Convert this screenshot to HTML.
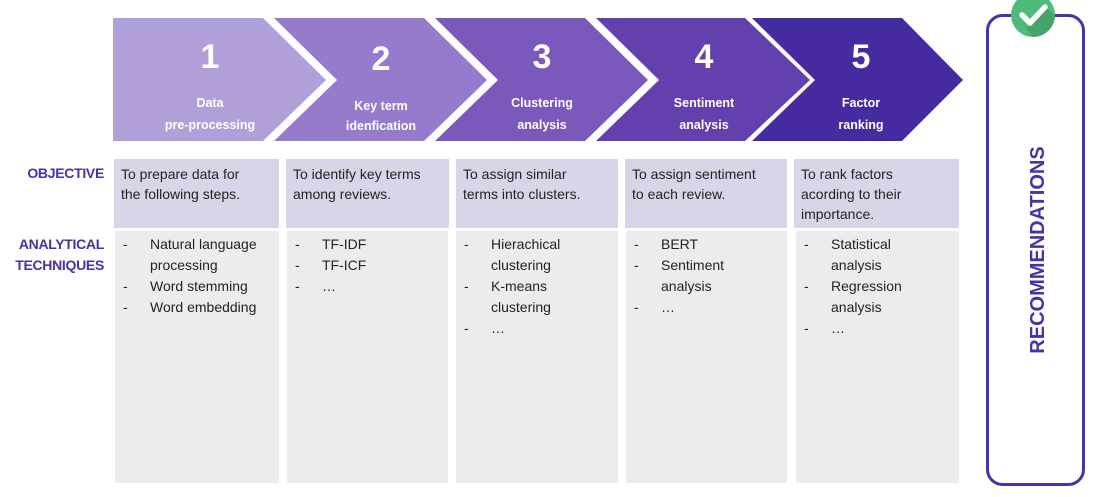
<!DOCTYPE html>
<html><head><style>
body{margin:0;width:1102px;height:497px;background:#fff;position:relative;overflow:hidden;font-family:"Liberation Sans",sans-serif;}
.a{position:absolute;}
.lbl{position:absolute;color:#4a2fa6;font-weight:bold;font-size:14px;text-align:right;width:100px;left:4px;line-height:21px;letter-spacing:-0.3px;}
.obj{position:absolute;top:159px;height:69px;background:#d9d5e9;font-size:14px;color:#222;line-height:20px;padding:5px 7px;box-sizing:border-box;white-space:nowrap;}
.tec{position:absolute;top:231px;height:252px;background:#ececec;font-size:14px;color:#222;line-height:21px;padding:3px 6px;box-sizing:border-box;white-space:nowrap;}
.tec div{padding-left:29px;position:relative;}
.tec div:before{content:"-";position:absolute;left:2px;}
.ct{position:absolute;color:#fff;font-weight:bold;text-align:center;}
</style></head><body>
<svg class="a" style="left:0;top:0" width="1102" height="497">
<polygon points="113,18 263,18 326,80 263,141 113,141" fill="#b09fd8"/>
<polygon points="274,18 424,18 487,80 424,141 274,141 337,80" fill="#967acb"/>
<polygon points="435,18 585,18 648,80 585,141 435,141 498,80" fill="#7b58bb"/>
<polygon points="596,18 745,18 810,80 745,141 596,141 659,80" fill="#6340ae"/>
<polygon points="752,18 902,18 963,80 902,141 752,141 815,80" fill="#452aa0"/>
<rect x="987.5" y="15.5" width="96" height="469" rx="15" fill="#fff" stroke="#4a31a8" stroke-width="3"/>
<circle cx="1033" cy="15" r="22" fill="#4fba7a"/>
<path d="M1033,37 A22,22 0 0 0 1055,15 L1046,8 L1026,28 Z" fill="#44a56b"/>
<polyline points="1022,15 1030,23 1045,7" fill="none" stroke="#fff" stroke-width="5.5" stroke-linecap="round" stroke-linejoin="round"/>
<text x="1044" y="250" transform="rotate(-90 1044 250)" text-anchor="middle" font-family="Liberation Sans" font-weight="bold" font-size="20" fill="#4a31a8">RECOMMENDATIONS</text>
</svg>
<div class="ct" style="left:160px;top:38px;width:100px;font-size:34px">1</div>
<div class="ct" style="left:160px;top:92px;width:100px;font-size:12.5px;line-height:22px">Data<br>pre-processing</div>
<div class="ct" style="left:331px;top:40px;width:100px;font-size:34px">2</div>
<div class="ct" style="left:331px;top:96px;width:100px;font-size:12.5px;line-height:20px">Key term<br>idenfication</div>
<div class="ct" style="left:492px;top:38px;width:100px;font-size:34px">3</div>
<div class="ct" style="left:492px;top:92px;width:100px;font-size:12.5px;line-height:22px">Clustering<br>analysis</div>
<div class="ct" style="left:654px;top:38px;width:100px;font-size:34px">4</div>
<div class="ct" style="left:654px;top:92px;width:100px;font-size:12.5px;line-height:22px">Sentiment<br>analysis</div>
<div class="ct" style="left:811px;top:38px;width:100px;font-size:34px">5</div>
<div class="ct" style="left:811px;top:92px;width:100px;font-size:12.5px;line-height:22px">Factor<br>ranking</div>

<div class="lbl" style="top:163px">OBJECTIVE</div>
<div class="lbl" style="top:234px">ANALYTICAL<br>TECHNIQUES</div>

<div class="obj" style="left:114px;width:165px">To prepare data for<br>the following steps.</div>
<div class="obj" style="left:286px;width:163px">To identify key terms<br>among reviews.</div>
<div class="obj" style="left:456px;width:162px">To assign similar<br>terms into clusters.</div>
<div class="obj" style="left:625px;width:162px">To assign sentiment<br>to each review.</div>
<div class="obj" style="left:794px;width:165px">To rank factors<br>acording to their<br>importance.</div>

<div class="tec" style="left:115px;width:164px"><div>Natural language<br>processing</div><div>Word stemming</div><div>Word embedding</div></div>
<div class="tec" style="left:287px;width:161px"><div>TF-IDF</div><div>TF-ICF</div><div>…</div></div>
<div class="tec" style="left:456px;width:162px"><div>Hierachical<br>clustering</div><div>K-means<br>clustering</div><div>…</div></div>
<div class="tec" style="left:626px;width:161px"><div>BERT</div><div>Sentiment<br>analysis</div><div>…</div></div>
<div class="tec" style="left:796px;width:163px"><div>Statistical<br>analysis</div><div>Regression<br>analysis</div><div>…</div></div>
</body></html>
